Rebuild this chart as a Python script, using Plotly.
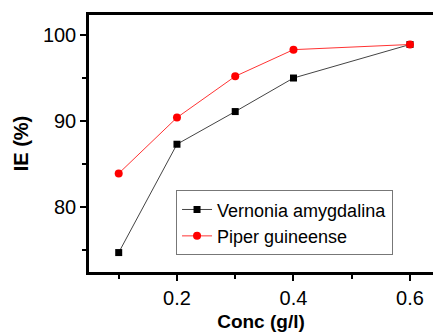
import plotly.graph_objects as go

conc = [0.1, 0.2, 0.3, 0.4, 0.6]
vernonia = [74.7, 87.3, 91.1, 95.0, 98.9]
piper = [83.9, 90.4, 95.2, 98.3, 98.9]

FONT = "Liberation Sans, Arial, sans-serif"

fig = go.Figure()
fig.add_trace(go.Scatter(x=conc, y=vernonia, mode="lines+markers", name="Vernonia amygdalina",
                         line=dict(color="#444444", width=1),
                         marker=dict(symbol="square", size=7, color="black")))
fig.add_trace(go.Scatter(x=conc, y=piper, mode="lines+markers", name="Piper guineense",
                         line=dict(color="#ff3333", width=1),
                         marker=dict(symbol="circle", size=8, color="red")))

fig.update_layout(
    width=433, height=332,
    margin=dict(l=89, r=0, t=15, b=60),
    paper_bgcolor="white", plot_bgcolor="white",
    font=dict(family=FONT, color="black", size=20),
    legend=dict(x=0.253, y=0.318, xanchor="left", yanchor="top",
                bordercolor="#777777", borderwidth=1, bgcolor="white",
                font=dict(size=18, family=FONT), tracegroupgap=0,
                itemwidth=30),
    showlegend=True,
)
fig.update_xaxes(range=[0.049, 0.6395], tickmode="linear", tick0=0, dtick=0.2,
                 tickformat=".1f",
                 showgrid=False, zeroline=False, showline=True, linecolor="black", linewidth=2.5,
                 mirror=True, ticks="outside", ticklen=6, tickwidth=2, tickcolor="black",
                 minor=dict(dtick=0.1, tick0=0, ticks="outside", ticklen=4, tickwidth=2, tickcolor="black"),
                 title=dict(text="<b>Conc (g/l)</b>", font=dict(size=19), standoff=10),
                 tickfont=dict(size=20), automargin=False)
fig.update_yaxes(range=[72.44, 102.33], tickmode="linear", tick0=0, dtick=10,
                 showgrid=False, zeroline=False, showline=True, linecolor="black", linewidth=2.5,
                 mirror=False, ticks="outside", ticklen=6, tickwidth=2, tickcolor="black",
                 minor=dict(dtick=5, tick0=0, ticks="outside", ticklen=4, tickwidth=2, tickcolor="black"),
                 title=dict(text="<b>IE (%)</b>", font=dict(size=20), standoff=9),
                 tickfont=dict(size=20), automargin=False)

fig.write_html("out.html", config={"displayModeBar": False},
               post_script="document.body.style.margin='0';document.body.style.padding='0';")
